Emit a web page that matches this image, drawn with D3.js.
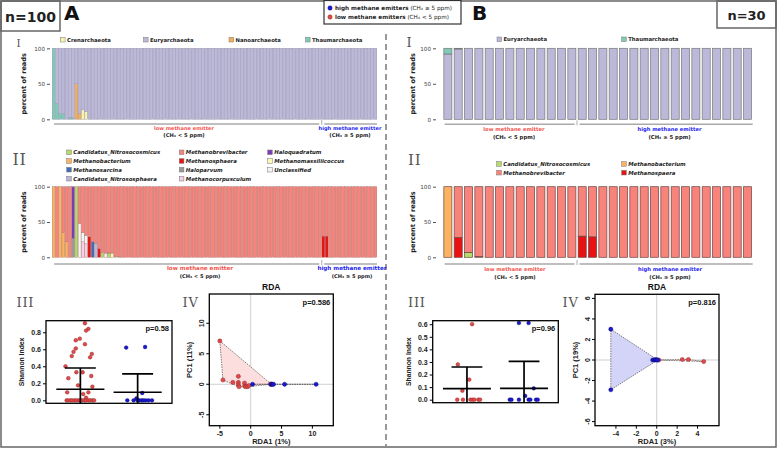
<!DOCTYPE html>
<html><head><meta charset="utf-8">
<script src="https://cdn.jsdelivr.net/npm/d3@7"></script>
<style>body{margin:0;background:#fff} svg{display:block}</style>
</head><body>
<svg id="c" width="778" height="450"></svg>
<script>
// ================= DATA =================
const groupLabels = ["low methane emitter", "high methane emitter"];
const groupSubLabels = ["(CH\u2084 < 5 ppm)", "(CH\u2084 \u2265 5 ppm)"];
const legendLabels = ["high methane emitters", "low methane emitters"];
const legendSubLabels = [" (CH\u2084 \u2265 5 ppm)", " (CH\u2084 < 5 ppm)"];

const samplesA = 100, lowSamplesA = 83;
const samplesB = 30, lowSamplesB = 13;

// Phylum level (panel I)
const phylaLegendA = ["Crenarchaeota", "Euryarchaeota", "Nanoarchaeota", "Thaumarchaeota"];
const phylaLegendB = ["Euryarchaeota", "Thaumarchaeota"];
const phylaStackA = ["Thaumarchaeota", "Nanoarchaeota", "Crenarchaeota", "Euryarchaeota"];
const phylaStackB = ["Euryarchaeota", "Thaumarchaeota"];
// [sample index, phylum, percent of reads]; Euryarchaeota fills the rest
const phylaMinorA = [[0,"Thaumarchaeota",100],[1,"Thaumarchaeota",22],[2,"Thaumarchaeota",8],[3,"Thaumarchaeota",8],
  [5,"Thaumarchaeota",2],[6,"Thaumarchaeota",2],[7,"Nanoarchaeota",50],[8,"Nanoarchaeota",8],
  [9,"Crenarchaeota",14],[10,"Crenarchaeota",11]];
const phylaMinorB = [[0,"Thaumarchaeota",8],[1,"Thaumarchaeota",1]];

// Genus level (panel II)
const generaLegendA = ["Candidatus_Nitrosocosmicus","Methanobacterium","Methanosarcina","Candidatus_Nitrososphaera",
  "Methanobrevibacter","Methanosphaera","Haloparvum","Methanocorpusculum",
  "Haloquadratum","Methanomassiliicoccus","Unclassified"];
const generaLegendB = ["Candidatus_Nitrosocosmicus","Methanobrevibacter","Methanobacterium","Methanospaera"];
const generaStackA = ["Methanobacterium","Haloparvum","Haloquadratum","Candidatus_Nitrosocosmicus","Methanocorpusculum",
  "Unclassified","Methanosphaera","Methanosarcina","Candidatus_Nitrososphaera","Methanomassiliicoccus","Methanobrevibacter"];
const generaStackB = ["Methanobacterium","Methanospaera","Candidatus_Nitrosocosmicus","Methanobrevibacter"];
// Methanobrevibacter fills the rest
const generaMinorA = [[0,"Methanobacterium",100],[2,"Methanobacterium",100],[3,"Methanobacterium",35],[4,"Methanobacterium",22],
  [6,"Haloparvum",27],[6,"Haloquadratum",73],[7,"Candidatus_Nitrosocosmicus",100],[8,"Unclassified",48],
  [9,"Methanocorpusculum",22],[9,"Unclassified",13],[10,"Methanocorpusculum",19],[10,"Unclassified",12],
  [11,"Methanosphaera",29],[12,"Methanosarcina",22],[13,"Candidatus_Nitrososphaera",20],[14,"Methanosphaera",12],
  [15,"Candidatus_Nitrosocosmicus",7],[16,"Unclassified",6],[17,"Candidatus_Nitrosocosmicus",6],
  [18,"Methanomassiliicoccus",6],[19,"Candidatus_Nitrososphaera",1],[20,"Candidatus_Nitrosocosmicus",1],
  [83,"Methanosphaera",30],[84,"Methanosphaera",30]];
const generaMinorB = [[0,"Methanobacterium",100],[1,"Methanospaera",28],[2,"Candidatus_Nitrosocosmicus",7],
  [3,"Methanobacterium",1],[13,"Methanospaera",30],[14,"Methanospaera",29]];

const barTicks = [0, 50, 100];

// Shannon index (panel III): [value, horizontal jitter within group]
const shannonLowA = [[0.906,0.08],[0.84,0.14],[0.82,0.10],[0.725,-0.01],[0.706,-0.08],[0.66,0.08],[0.61,-0.08],
  [0.57,-0.12],[0.545,0.20],[0.52,-0.15],[0.506,0.17],[0.40,-0.26],[0.33,-0.07],[0.33,0.04],[0.286,0.19],
  [0.26,-0.21],[0.176,-0.04],[0.16,0.21],[0.094,-0.23],[0.094,0.14],[0.074,0.05],[0.03,0.10],
  [0,-0.24],[0,-0.21],[0,-0.17],[0,-0.14],[0,-0.10],[0,-0.07],[0,-0.03],[0,0],[0,0.03],[0,0.07],[0,0.10],
  [0,0.14],[0,0.17],[0,0.21],[0,0.24]];
const shannonHighA = [[0.62,-0.20],[0.627,0.13],[0.086,0.08],[0.024,-0.02],[0,-0.18],[0,-0.07],[0,0],[0,0.03],
  [0,0.07],[0,0.10],[0,0.14],[0,0.19],[0,0.25]];
const shannonMeanA = [0.13, 0.095], shannonUpperA = [0.38, 0.31], shannonLowerA = [-0.12, -0.12];
const shannonTicksA = [0, 0.2, 0.4, 0.6, 0.8];
const shannonPA = "p=0.58";

const shannonLowB = [[0.60,0.09],[0.28,-0.16],[0.16,0.04],[0.072,-0.08],[0,-0.17],[0,-0.07],[0,0.06],[0,0.10],
  [0,0.13],[0,0.20],[0,0.23]];
const shannonHighB = [[0.61,-0.09],[0.61,0.08],[0.09,0.17],[0.03,0.02],[0,-0.25],[0,-0.22],[0,-0.09],[0,0.08],
  [0,0.11],[0,0.21],[0,0.24]];
const shannonMeanB = [0.088, 0.09], shannonUpperB = [0.26, 0.305], shannonLowerB = [-0.09, -0.13];
const shannonTicksB = [0, 0.1, 0.2, 0.3, 0.4, 0.5, 0.6];
const shannonPB = "p=0.96";

// RDA (panel IV): [RDA1, PC1]
const rdaLowA = [[-5.0,7.1],[-4.5,0.7],[-2.9,0.3],[-2.0,1.3],[-2.0,0.3],[-2.0,-0.1],[-1.9,-0.4],[-1.0,0.2],
  [-1.0,-0.3],[-0.8,-0.4],[-0.5,-0.4],[-0.3,-0.2],[3.2,0.0],[3.3,0.05]];
const rdaHighA = [[0.3,0],[3.3,0],[3.5,0],[3.7,0],[5.5,0],[10.6,0]];
const rdaTicksXA = [-5, 0, 5, 10], rdaTicksYA = [-5, 0, 5, 10];
const rdaAxisA = ["RDA1 (1%)", "PC1 (11%)"];
const rdaPA = "p=0.586";

const rdaLowB = [[0.2,0.0],[2.5,0.05],[3.1,0.05],[4.6,-0.15]];
const rdaHighB = [[-4.5,3.0],[-4.5,-2.9],[-0.4,0.0],[-0.2,0.0],[-0.1,0.05],[0.0,0.0],[0.1,0.0]];
const rdaTicksXB = [-4, -2, 0, 2, 4], rdaTicksYB = [-6, -4, -2, 0, 2, 4, 6];
const rdaAxisB = ["RDA1 (3%)", "PC1 (19%)"];
const rdaPB = "p=0.816";

// ================= STYLE =================
const SANS = "'DejaVu Sans', Verdana, sans-serif";
const ARIAL = "'Liberation Sans', Arial, sans-serif";
const SERIF = "'DejaVu Serif', serif";
const taxonColor = {
  Crenarchaeota:"#f7f5ac", Euryarchaeota:"#bcb8da", Nanoarchaeota:"#f8ae55", Thaumarchaeota:"#80cbb8",
  Candidatus_Nitrosocosmicus:"#b3dc6a", Methanobacterium:"#fbb261", Methanosarcina:"#3b6fb6",
  Candidatus_Nitrososphaera:"#b8b5e0", Methanobrevibacter:"#f7837a", Methanosphaera:"#e81212",
  Methanospaera:"#e81212", Haloparvum:"#9a9a9a", Methanocorpusculum:"#f9cde2", Haloquadratum:"#7a3db8",
  Methanomassiliicoccus:"#fbf9b4", Unclassified:"#f4f4f4"
};
const lowColor = "#e24a4a", highColor = "#1a1ad0";
const lowText = "#f5544f", highText = "#2424f0";

const svg = d3.select("#c");

// ================= FRAME & HEADER =================
svg.append("rect").attr("x",1).attr("y",1).attr("width",775).attr("height",446)
  .attr("fill","none").attr("stroke","#666").attr("stroke-width",1.5);
svg.append("rect").attr("x",1).attr("y",1).attr("width",59).attr("height",30)
  .attr("fill","none").attr("stroke","#666").attr("stroke-width",1.5);
svg.append("text").attr("x",30.5).attr("y",21.5).attr("text-anchor","middle").attr("font-family",SANS)
  .attr("font-weight","bold").attr("font-size",14).attr("fill","#222").text("n=100");
svg.append("text").attr("x",64).attr("y",20).attr("font-family",SANS).attr("font-weight","bold")
  .attr("font-size",20).attr("fill","#111").text("A");
svg.append("rect").attr("x",717).attr("y",1).attr("width",59).attr("height",27)
  .attr("fill","none").attr("stroke","#666").attr("stroke-width",1.5);
svg.append("text").attr("x",746.5).attr("y",20).attr("text-anchor","middle").attr("font-family",SANS)
  .attr("font-weight","bold").attr("font-size",13).attr("fill","#222").text("n=30");
svg.append("text").attr("x",472).attr("y",20).attr("font-family",SANS).attr("font-weight","bold")
  .attr("font-size",20).attr("fill","#111").text("B");

// top legend
svg.append("rect").attr("x",324).attr("y",0.5).attr("width",137).attr("height",23.5)
  .attr("fill","#fff").attr("stroke","#333").attr("stroke-width",1.2);
[highColor, lowColor].forEach((c,i) => {
  svg.append("circle").attr("cx",330).attr("cy",8 + i*9).attr("r",2.2).attr("fill",c)
    .attr("stroke", i ? "#7a1d1d" : "#000066").attr("stroke-width",0.4);
  const t = svg.append("text").attr("x",335).attr("y",10.2 + i*9).attr("font-family",SANS)
    .attr("font-size",5.7).attr("fill","#222");
  t.append("tspan").attr("font-weight","bold").text(legendLabels[i]);
  t.append("tspan").text(legendSubLabels[i]);
});

// divider
svg.append("line").attr("x1",386).attr("x2",386).attr("y1",34).attr("y2",446)
  .attr("stroke","#333").attr("stroke-width",1).attr("stroke-dasharray","6,4");

function roman(txt, x, y, size) {
  svg.append("text").attr("x",x).attr("y",y).attr("font-family",SERIF).attr("font-size",size)
    .attr("fill","#555").attr("letter-spacing",0.8).text(txt);
}
roman("I",16.5,47,10.5); roman("II",12.5,165,16); roman("III",16.5,307,13); roman("IV",182.5,307,13);
roman("I",406.5,47,13); roman("II",408,165,15); roman("III",408,307,13); roman("IV",562.5,307,13);

// ================= STACKED BARS =================
// legend laid out column-major: colXs, rowYs
function legend(items, colXs, rowYs, italic, size) {
  items.forEach((k,i) => {
    const x = colXs[Math.floor(i / rowYs.length)], y = rowYs[i % rowYs.length];
    svg.append("rect").attr("x",x).attr("y",y-2.3).attr("width",4.6).attr("height",4.6)
      .attr("fill",taxonColor[k]).attr("stroke","#777").attr("stroke-width",0.5);
    svg.append("text").attr("x",x+6.5).attr("y",y+2).attr("font-family",SANS).attr("font-weight","bold")
      .attr("font-style", italic ? "italic" : "normal").attr("font-size",size).attr("fill","#222").text(k);
  });
}

function bars(cfg) {
  const {x0,x1,yTop,yBot,n,nLow,keys,rest,minor,pad,stroke,sw,axisX,titleX,bracketY,lowX,highX,lab1Y,lab2Y,labSize,subSize} = cfg;
  const x = d3.scaleBand().domain(d3.range(n)).range([x0,x1]).paddingInner(pad).paddingOuter(pad/2);
  const y = d3.scaleLinear().domain([0,100]).range([yBot,yTop]);
  const rows = d3.range(n).map(i => { const r = {idx:i}; keys.forEach(k => r[k]=0); return r; });
  minor.forEach(([i,k,v]) => { rows[i][k] += v; });
  rows.forEach(r => { r[rest] = 100 - d3.sum(keys.filter(k => k !== rest), k => r[k]); });
  const series = d3.stack().keys(keys)(rows);
  const g = svg.append("g");
  series.forEach(s => {
    g.selectAll(null).data(s.filter(d => d[1]-d[0] > 0)).join("rect")
      .attr("x", d => x(d.data.idx)).attr("width", x.bandwidth())
      .attr("y", d => y(d[1])).attr("height", d => y(d[0]) - y(d[1]))
      .attr("fill", taxonColor[s.key]).attr("stroke", stroke).attr("stroke-width", sw);
  });
  const ax = svg.append("g").attr("transform",`translate(${axisX},0)`)
    .call(d3.axisLeft(y).tickValues(barTicks).tickSize(3).tickPadding(2));
  ax.select(".domain").remove();
  ax.selectAll("line").attr("stroke","#555");
  ax.selectAll("text").attr("font-family",SANS).attr("font-size",5.6).attr("fill","#444");
  svg.append("text").attr("transform",`translate(${titleX},${(yTop+yBot)/2}) rotate(-90)`)
    .attr("text-anchor","middle").attr("font-family",SANS).attr("font-weight","bold")
    .attr("font-size",6.6).attr("fill","#222").text("percent of reads");
  const split = (x(nLow-1) + x.bandwidth() + x(nLow)) / 2;
  const bx = [[x0+2, split-2.5],[split+2.5, x1]];
  bx.forEach(([a,b]) => svg.append("line").attr("x1",a).attr("x2",b).attr("y1",bracketY).attr("y2",bracketY)
    .attr("stroke","#aaa").attr("stroke-width",1.4));
  svg.append("line").attr("x1",split).attr("x2",split).attr("y1",bracketY-4).attr("y2",bracketY+1)
    .attr("stroke","#999").attr("stroke-width",0.8);
  [[lowX,lowText],[highX,highText]].forEach(([cx,col],i) => {
    svg.append("text").attr("x",cx).attr("y",lab1Y).attr("text-anchor","middle").attr("font-family",SANS)
      .attr("font-weight","bold").attr("font-size",labSize).attr("fill",col).text(groupLabels[i]);
    svg.append("text").attr("x",cx).attr("y",lab2Y).attr("text-anchor","middle").attr("font-family",SANS)
      .attr("font-weight","bold").attr("font-size",subSize).attr("fill","#222").text(groupSubLabels[i]);
  });
}

// Panel A-I
legend(phylaLegendA, [60.5,143.5,229,305.5], [39.7], false, 5.3);
bars({x0:52,x1:377,yTop:48.3,yBot:119.3,n:samplesA,nLow:lowSamplesA,keys:phylaStackA,rest:"Euryarchaeota",minor:phylaMinorA,
  pad:0.1,stroke:"#8a879e",sw:0.35,axisX:50,titleX:25.5,bracketY:124,lowX:184,highX:350,
  lab1Y:129.8,lab2Y:137,labSize:5.1,subSize:5.2});
// Panel A-II
legend(generaLegendA, [66.7,179.3,267.7], [152.3,161,169.7,178.7], true, 5.4);
bars({x0:52,x1:377,yTop:186.7,yBot:257.3,n:samplesA,nLow:lowSamplesA,keys:generaStackA,rest:"Methanobrevibacter",minor:generaMinorA,
  pad:0.12,stroke:"#9a6a66",sw:0.35,axisX:50,titleX:25.5,bracketY:264,lowX:200,highX:352,
  lab1Y:270.3,lab2Y:278,labSize:5.6,subSize:5.1});
// Panel B-I
legend(phylaLegendB, [497,621.7], [39.3], false, 5.3);
bars({x0:442.7,x1:752.7,yTop:48.3,yBot:119.3,n:samplesB,nLow:lowSamplesB,keys:phylaStackB,rest:"Euryarchaeota",minor:phylaMinorB,
  pad:0.22,stroke:"#777",sw:0.7,axisX:436,titleX:414.5,bracketY:124.3,lowX:514,highX:669.5,
  lab1Y:131,lab2Y:139,labSize:5.2,subSize:5.3});
// Panel B-II
legend(generaLegendB, [496.7,621.7], [164,172.7], true, 5.4);
bars({x0:442.7,x1:752.7,yTop:186.7,yBot:257.3,n:samplesB,nLow:lowSamplesB,keys:generaStackB,rest:"Methanobrevibacter",minor:generaMinorB,
  pad:0.22,stroke:"#6a4444",sw:0.7,axisX:436,titleX:414.5,bracketY:264,lowX:515,highX:670,
  lab1Y:270.5,lab2Y:278.5,labSize:5.2,subSize:5.2});

// ================= SHANNON =================
function shannon(cfg) {
  const {x0,x1,y0,y1,dom,ticks,low,high,mean,upper,lower,p,id} = cfg;
  const y = d3.scaleLinear().domain(dom).range([y1,y0]);
  const x = d3.scalePoint().domain([0,1]).range([x0,x1]).padding(0.6);
  const st = x.step();
  svg.append("clipPath").attr("id",id).append("rect").attr("x",x0).attr("y",y0).attr("width",x1-x0).attr("height",y1-y0);
  const g = svg.append("g").attr("clip-path",`url(#${id})`);
  [[low,lowColor,"#7a1d1d"],[high,highColor,"#000066"]].forEach(([pts,c,sc],gi) => {
    g.selectAll(null).data(pts).join("circle").attr("cx", d => x(gi) + d[1]*st).attr("cy", d => y(d[0]))
      .attr("r",1.9).attr("fill",c).attr("stroke",sc).attr("stroke-width",0.35);
  });
  [0,1].forEach(gi => {
    const cx = x(gi);
    g.append("line").attr("x1",cx-0.42*st).attr("x2",cx+0.42*st).attr("y1",y(mean[gi])).attr("y2",y(mean[gi]));
    g.append("line").attr("x1",cx-0.27*st).attr("x2",cx+0.27*st).attr("y1",y(upper[gi])).attr("y2",y(upper[gi]));
    g.append("line").attr("x1",cx).attr("x2",cx).attr("y1",y(upper[gi])).attr("y2",y(lower[gi]));
  });
  g.selectAll("line").attr("stroke","#000").attr("stroke-width",1.7);
  svg.append("rect").attr("x",x0).attr("y",y0).attr("width",x1-x0).attr("height",y1-y0)
    .attr("fill","none").attr("stroke","#000").attr("stroke-width",1.3);
  const ax = svg.append("g").attr("transform",`translate(${x0},0)`)
    .call(d3.axisLeft(y).tickValues(ticks).tickSize(3).tickPadding(2).tickFormat(d3.format(".1f")));
  ax.select(".domain").remove();
  ax.selectAll("line").attr("stroke","#000");
  ax.selectAll("text").attr("font-family",ARIAL).attr("font-weight","bold").attr("font-size",7).attr("fill","#222");
  svg.append("text").attr("transform",`translate(${x0-22},${(y0+y1)/2}) rotate(-90)`).attr("text-anchor","middle")
    .attr("font-family",ARIAL).attr("font-weight","bold").attr("font-size",6.8).attr("fill","#222").text("Shannon Index");
  svg.append("text").attr("x",x1-3).attr("y",y0+10).attr("text-anchor","end").attr("font-family",ARIAL)
    .attr("font-weight","bold").attr("font-size",7.5).attr("fill","#111").text(p);
}
shannon({x0:46,x1:172,y0:320.7,y1:403.3,dom:[-0.035,0.936],ticks:shannonTicksA,low:shannonLowA,high:shannonHighA,
  mean:shannonMeanA,upper:shannonUpperA,lower:shannonLowerA,p:shannonPA,id:"clipSA"});
shannon({x0:432.7,x1:558.3,y0:320.7,y1:402.7,dom:[-0.024,0.628],ticks:shannonTicksB,low:shannonLowB,high:shannonHighB,
  mean:shannonMeanB,upper:shannonUpperB,lower:shannonLowerB,p:shannonPB,id:"clipSB"});

// ================= RDA =================
function rda(cfg) {
  const {x0,x1,y0,y1,xd,yd,tx,ty,low,high,lab,p,lowFill,highFill} = cfg;
  const x = d3.scaleLinear().domain(xd).range([x0,x1]);
  const y = d3.scaleLinear().domain(yd).range([y1,y0]);
  svg.append("line").attr("x1",x(0)).attr("x2",x(0)).attr("y1",y0).attr("y2",y1).attr("stroke","#cfcfcf").attr("stroke-width",1);
  svg.append("line").attr("x1",x0).attr("x2",x1).attr("y1",y(0)).attr("y2",y(0)).attr("stroke","#cfcfcf").attr("stroke-width",1);
  [[low,lowFill],[high,highFill]].forEach(([pts,f]) => {
    const hull = d3.polygonHull(pts.map(d => [x(d[0]), y(d[1])]));
    if (hull) svg.append("path").attr("d","M"+hull.join("L")+"Z").attr("fill",f)
      .attr("stroke","#333").attr("stroke-width",0.6).attr("stroke-dasharray","1.5,1");
  });
  [[low,lowColor,"#7a1d1d"],[high,highColor,"#000066"]].forEach(([pts,c,sc]) => {
    svg.selectAll(null).data(pts).join("circle").attr("cx",d=>x(d[0])).attr("cy",d=>y(d[1])).attr("r",2.1)
      .attr("fill",c).attr("stroke",sc).attr("stroke-width",0.4);
  });
  svg.append("rect").attr("x",x0).attr("y",y0).attr("width",x1-x0).attr("height",y1-y0)
    .attr("fill","none").attr("stroke","#000").attr("stroke-width",1.3);
  tx.forEach(v => {
    svg.append("line").attr("x1",x(v)).attr("x2",x(v)).attr("y1",y1).attr("y2",y1+3).attr("stroke","#000");
    svg.append("text").attr("x",x(v)).attr("y",y1+10).attr("text-anchor","middle").attr("font-family",ARIAL)
      .attr("font-weight","bold").attr("font-size",7).attr("fill","#222").text(v);
  });
  ty.forEach(v => {
    svg.append("line").attr("x1",x0-3).attr("x2",x0).attr("y1",y(v)).attr("y2",y(v)).attr("stroke","#000");
    svg.append("text").attr("transform",`translate(${x0-5},${y(v)}) rotate(-90)`).attr("text-anchor","middle")
      .attr("font-family",ARIAL).attr("font-weight","bold").attr("font-size",7).attr("fill","#222").text(v);
  });
  svg.append("text").attr("x",(x0+x1)/2).attr("y",y0-4.5).attr("text-anchor","middle").attr("font-family",ARIAL)
    .attr("font-weight","bold").attr("font-size",8.5).attr("fill","#111").text("RDA");
  svg.append("text").attr("x",(x0+x1)/2).attr("y",y1+18.5).attr("text-anchor","middle").attr("font-family",ARIAL)
    .attr("font-weight","bold").attr("font-size",7.5).attr("fill","#222").text(lab[0]);
  svg.append("text").attr("transform",`translate(${x0-17},${(y0+y1)/2}) rotate(-90)`).attr("text-anchor","middle")
    .attr("font-family",ARIAL).attr("font-weight","bold").attr("font-size",7.5).attr("fill","#222").text(lab[1]);
  svg.append("text").attr("x",x1-3).attr("y",y0+10.5).attr("text-anchor","end").attr("font-family",ARIAL)
    .attr("font-weight","bold").attr("font-size",7.5).attr("fill","#111").text(p);
}
rda({x0:209.3,x1:333.3,y0:294,y1:425.7,xd:[-6.71,13.39],yd:[-6.79,14.8],tx:rdaTicksXA,ty:rdaTicksYA,
  low:rdaLowA,high:rdaHighA,lab:rdaAxisA,p:rdaPA,lowFill:"#fcdede",highFill:"#dcdcf8"});
rda({x0:595,x1:719,y0:294.3,y1:425.7,xd:[-6.05,6.1],yd:[-6.4,6.4],tx:rdaTicksXB,ty:rdaTicksYB,
  low:rdaLowB,high:rdaHighB,lab:rdaAxisB,p:rdaPB,lowFill:"#fcdede",highFill:"#d4d4f8"});
</script>
</body></html>
